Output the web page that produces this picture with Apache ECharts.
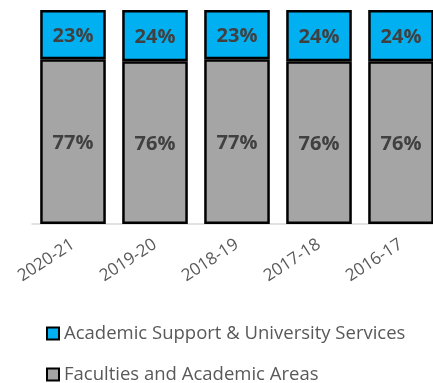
<!DOCTYPE html>
<html>
<head>
<meta charset="utf-8">
<script src="https://cdn.jsdelivr.net/npm/echarts@6/dist/echarts.min.js"></script>
<style>html,body{margin:0;padding:0;background:#fff;}#c{width:433px;height:383px;}</style>
</head>
<body>
<div id="c"></div>
<script>
const categories = ['2020-21', '2019-20', '2018-19', '2017-18', '2016-17'];
const faculties = [77, 76, 77, 76, 76];
const support = [23, 24, 23, 24, 24];
const seriesNames = ['Faculties and Academic Areas', 'Academic Support & University Services'];

const chart = echarts.init(document.getElementById('c'));
const labelStyle = {
  show: true,
  position: 'inside',
  offset: [0, 2],
  formatter: p => p.value + '%',
  fontFamily: 'Open Sans',
  fontWeight: 'bold',
  fontSize: 20,
  color: '#404040'
};
chart.setOption({
  animation: false,
  grid: { left: 32, width: 410, top: 10, bottom: 159, outerBoundsMode: 'none' },
  xAxis: {
    type: 'category',
    data: categories,
    axisLine: { lineStyle: { color: '#d9d9d9', width: 1.5 } },
    axisTick: { show: false },
    axisLabel: { rotate: 33, fontFamily: 'Open Sans', fontSize: 17, color: '#595959', margin: 19 }
  },
  yAxis: { type: 'value', min: 0, max: 100, show: false, splitLine: { show: false } },
  legend: {
    orient: 'vertical',
    left: 41,
    top: 319,
    height: 80,
    itemGap: 22,
    icon: 'rect',
    itemWidth: 12,
    itemHeight: 12,
    data: [seriesNames[1], seriesNames[0]],
    textStyle: { fontFamily: 'Open Sans', fontSize: 18.5, color: '#595959' }
  },
  series: [
    {
      name: seriesNames[0], type: 'bar', stack: 'a', data: faculties, barCategoryGap: '20%',
      itemStyle: { color: '#a5a5a5', borderColor: '#000', borderWidth: 2.5 },
      label: labelStyle
    },
    {
      name: seriesNames[1], type: 'bar', stack: 'a', data: support,
      itemStyle: { color: '#00b0f0', borderColor: '#000', borderWidth: 2.5 },
      label: labelStyle
    }
  ]
});
</script>
</body>
</html>
